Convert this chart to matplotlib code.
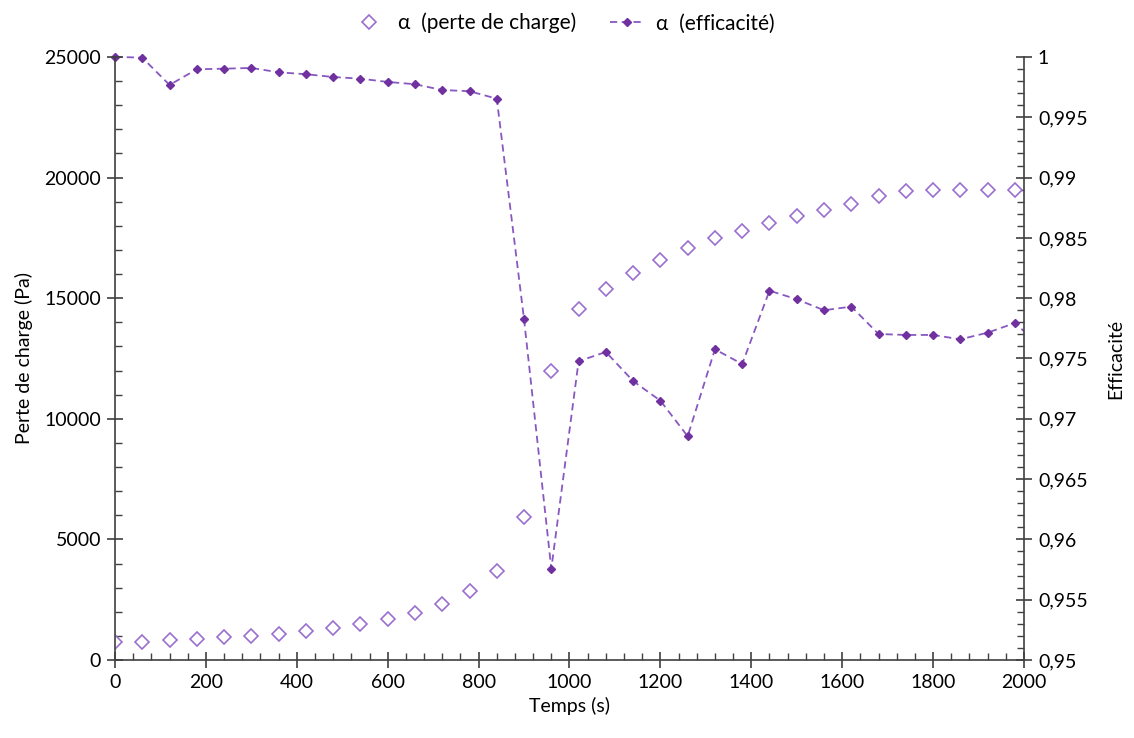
import matplotlib.pyplot as plt
from matplotlib.patches import Rectangle
from matplotlib.ticker import MultipleLocator, FuncFormatter

plt.rcParams['font.family'] = ['Lato', 'DejaVu Sans']

# Temps (s)
temps = [0, 60, 120, 180, 240, 300, 360, 420, 480, 540, 600, 660, 720, 780, 840,
         900, 960, 1020, 1080, 1140, 1200, 1260, 1320, 1380, 1440, 1500, 1560,
         1620, 1680, 1740, 1800, 1860, 1920, 1980]

# Perte de charge (Pa)
perte_charge = [760, 740, 815, 858, 940, 1010, 1090, 1190, 1340, 1490, 1690, 1960,
                2320, 2850, 3700, 5940, 11990, 14560, 15400, 16030, 16580, 17060,
                17500, 17800, 18130, 18400, 18660, 18890, 19240, 19460, 19470,
                19470, 19500, 19500]

# Efficacité (le dernier point est hors du cadre, coupé à 2000 s)
temps_eff = temps + [2040]
efficacite = [1.0, 0.99995, 0.99768, 0.99898, 0.99903, 0.99909, 0.99873, 0.99857,
              0.99834, 0.99820, 0.99793, 0.99774, 0.99726, 0.99716, 0.99654,
              0.97825, 0.95757, 0.97477, 0.97554, 0.97313, 0.97150, 0.96855,
              0.97576, 0.97454, 0.98062, 0.97991, 0.97900, 0.97930, 0.97703,
              0.97695, 0.97695, 0.97659, 0.97714, 0.97794, 0.9759]

fig = plt.figure(figsize=(11.34, 7.38), dpi=100)
ax = fig.add_axes([0.1014, 0.1057, 0.8016, 0.8171])
ax2 = ax.twinx()

p1, = ax.plot(temps, perte_charge, linestyle='none', marker='D', markersize=7,
              markerfacecolor='white', markeredgecolor='#9B6FCF', markeredgewidth=1.2,
              label='α  (perte de charge)')
p2, = ax2.plot(temps_eff, efficacite, linestyle='--', color='#8858C0', linewidth=1.3,
               dashes=(4, 2.5), marker='D', markersize=4.5, markerfacecolor='#7030A0',
               markeredgecolor='#7030A0', label='α  (efficacité)')
# coupe seulement à droite (x = 2000), pas en haut
p2.set_clip_path(Rectangle((-0.05, -0.05), 1.05, 1.1, transform=ax2.transAxes))

ax.set_xlim(0, 2000)
ax.set_ylim(0, 25000)
ax2.set_ylim(0.95, 1.0)
ax.set_zorder(ax2.get_zorder() + 1)
ax.patch.set_visible(False)

ax.xaxis.set_major_locator(MultipleLocator(200))
ax.xaxis.set_minor_locator(MultipleLocator(40))
ax.yaxis.set_major_locator(MultipleLocator(5000))
ax.yaxis.set_minor_locator(MultipleLocator(1000))
ax2.yaxis.set_major_locator(MultipleLocator(0.005))
ax2.yaxis.set_minor_locator(MultipleLocator(0.001))
ax2.yaxis.set_major_formatter(FuncFormatter(lambda v, p: f"{round(v, 3):g}".replace('.', ',')))

for a in (ax, ax2):
    a.spines['top'].set_visible(False)
    for s in a.spines.values():
        s.set_color('#404040')
        s.set_linewidth(1.2)
    a.tick_params(which='major', direction='inout', length=12, width=1.2, colors='#404040',
                  labelcolor='black', labelsize=14, pad=4)
    a.tick_params(which='minor', direction='in', length=5, width=1.0, colors='#404040')

ax.spines['right'].set_visible(False)
ax2.spines['left'].set_visible(False)
ax2.spines['bottom'].set_visible(False)

ax.set_xlabel('Temps (s)', fontsize=14, labelpad=4)
ax.set_ylabel('Perte de charge (Pa)', fontsize=14, labelpad=8)
ax2.set_ylabel('Efficacité', fontsize=14, labelpad=14)

fig.legend(handles=[p1, p2], loc='upper center', bbox_to_anchor=(0.497, 1.008), ncol=2,
           frameon=False, fontsize=15, handlelength=1.6, columnspacing=1.6, handletextpad=0.6)

fig.savefig('out.png', dpi=100)
